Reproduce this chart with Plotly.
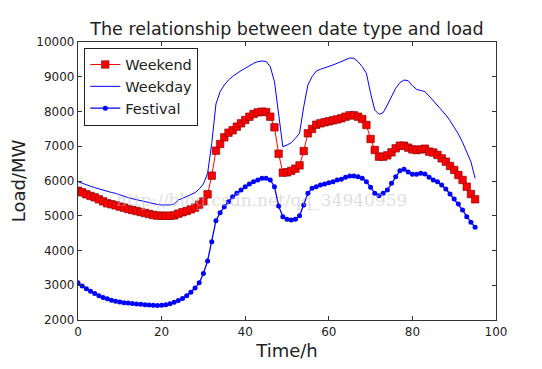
import plotly.graph_objects as go

x_time = list(range(96))

weekend = [5720, 5673, 5617, 5570, 5530, 5473, 5415, 5358, 5330, 5300,
           5262, 5233, 5195, 5165, 5137, 5108, 5079, 5050, 5022, 5003,
           5000, 5000, 5000, 5010, 5060, 5100, 5137, 5185, 5233, 5320,
           5415, 5617, 6153, 6872, 7065, 7257, 7390, 7460, 7563, 7660,
           7755, 7850, 7928, 7975, 7995, 7985, 7850, 7545, 6786, 6240,
           6250, 6290, 6355, 6450, 6863, 7373, 7498, 7620, 7660, 7690,
           7718, 7746, 7773, 7804, 7850, 7890, 7890, 7850, 7784, 7612,
           7209, 6892, 6700, 6700, 6738, 6825, 6940, 7016, 7016, 6959,
           6910, 6890, 6910, 6930, 6845, 6820, 6750, 6652, 6556, 6432,
           6317, 6173, 6029, 5836, 5626, 5473]

weekday = [5980, 5930, 5890, 5850, 5810, 5770, 5730, 5700, 5670, 5646,
           5600, 5560, 5520, 5490, 5460, 5430, 5400, 5370, 5345, 5325,
           5310, 5300, 5310, 5335, 5453, 5500, 5550, 5610, 5664, 5770,
           5914, 6220, 7085, 8216, 8570, 8763, 8906, 9010, 9099, 9175,
           9243, 9320, 9387, 9435, 9453, 9440, 9290, 8858, 7948, 6987,
           7035, 7100, 7228, 7372, 8138, 8763, 9003, 9165, 9214, 9250,
           9290, 9340, 9387, 9435, 9483, 9540, 9530, 9435, 9290, 9099,
           8523, 8043, 7920, 7966, 8187, 8427, 8667, 8830, 8906, 8887,
           8743, 8638, 8600, 8571, 8446, 8312, 8187, 8043, 7899, 7736,
           7563, 7352, 7113, 6843, 6555, 6077]

festival = [3073, 2980, 2900, 2830, 2760, 2700, 2650, 2610, 2570, 2540,
            2520, 2500, 2490, 2475, 2460, 2450, 2440, 2430, 2425, 2420,
            2425, 2440, 2470, 2510, 2560, 2620, 2700, 2800, 2920, 3073,
            3340, 3700, 4250, 4858, 5089, 5260, 5404, 5548, 5645, 5741,
            5837, 5914, 5981, 6029, 6077, 6077, 6029, 5837, 5281, 4973,
            4896, 4877, 4896, 5000, 5310, 5645, 5789, 5837, 5885, 5914,
            5952, 5981, 6029, 6049, 6106, 6144, 6144, 6125, 6077, 5981,
            5818, 5645, 5578, 5645, 5741, 5933, 6125, 6297, 6336, 6259,
            6192, 6192, 6221, 6202, 6106, 6029, 5981, 5885, 5770, 5626,
            5482, 5338, 5165, 4973, 4810, 4667]

x_ticks = [0, 20, 40, 60, 80, 100]
x_tick_labels = ["0", "20", "40", "60", "80", "100"]
y_ticks = [2000, 3000, 4000, 5000, 6000, 7000, 8000, 9000, 10000]
y_tick_labels = ["2000", "3000", "4000", "5000", "6000", "7000", "8000", "9000", "10000"]

fig = go.Figure()
fig.add_trace(go.Scatter(
    x=x_time, y=weekend, name="Weekend", mode="lines+markers",
    line=dict(color="#ff0000", width=1),
    marker=dict(symbol="square", size=7.5, color="#ff0000",
                line=dict(color="#7a0000", width=0.6)),
))
fig.add_trace(go.Scatter(
    x=x_time, y=weekday, name="Weekday", mode="lines",
    line=dict(color="#0000ff", width=1),
))
fig.add_trace(go.Scatter(
    x=x_time, y=festival, name="Festival", mode="lines+markers",
    line=dict(color="#0000ff", width=1.3),
    marker=dict(symbol="circle", size=5, color="#0000ff"),
))

fig.add_annotation(
    text="http://blog.csdn.net/qq_34940959", x=0.44, y=0.43,
    xref="paper", yref="paper", showarrow=False,
    font=dict(family="DejaVu Serif, Liberation Serif, serif", size=17,
              color="rgba(190,190,190,0.5)"),
)

axis_common = dict(
    showgrid=False, zeroline=False, showline=True, linecolor="#333333",
    linewidth=1.2, mirror="ticks", ticks="inside", ticklen=4,
    tickcolor="#333333", tickfont=dict(size=12, color="#222222"),
    automargin=False,
)

fig.update_layout(
    width=534, height=361,
    margin=dict(l=70, r=46, t=34, b=49),
    paper_bgcolor="white", plot_bgcolor="white",
    font=dict(family="DejaVu Sans, sans-serif", color="#222222"),
    title=dict(text="The relationship between date type and load",
               x=0.5, xanchor="center", xref="paper",
               y=0.942, yanchor="middle", yref="container",
               font=dict(size=17.5, color="#222222")),
    xaxis=dict(range=[0, 100], tickvals=x_ticks, ticktext=x_tick_labels,
               title=dict(text="Time/h", font=dict(size=18), standoff=6),
               **axis_common),
    yaxis=dict(range=[2000, 10000], tickvals=y_ticks, ticktext=y_tick_labels,
               title=dict(text="Load/MW", font=dict(size=18), standoff=13),
               **axis_common),
    legend=dict(x=0.015, y=0.98, xanchor="left", yanchor="top",
                bordercolor="#222222", borderwidth=1, bgcolor="white",
                font=dict(size=14.5, color="#222222"),
                tracegroupgap=0, itemwidth=30),
    showlegend=True,
)

fig.write_html("out.html")
